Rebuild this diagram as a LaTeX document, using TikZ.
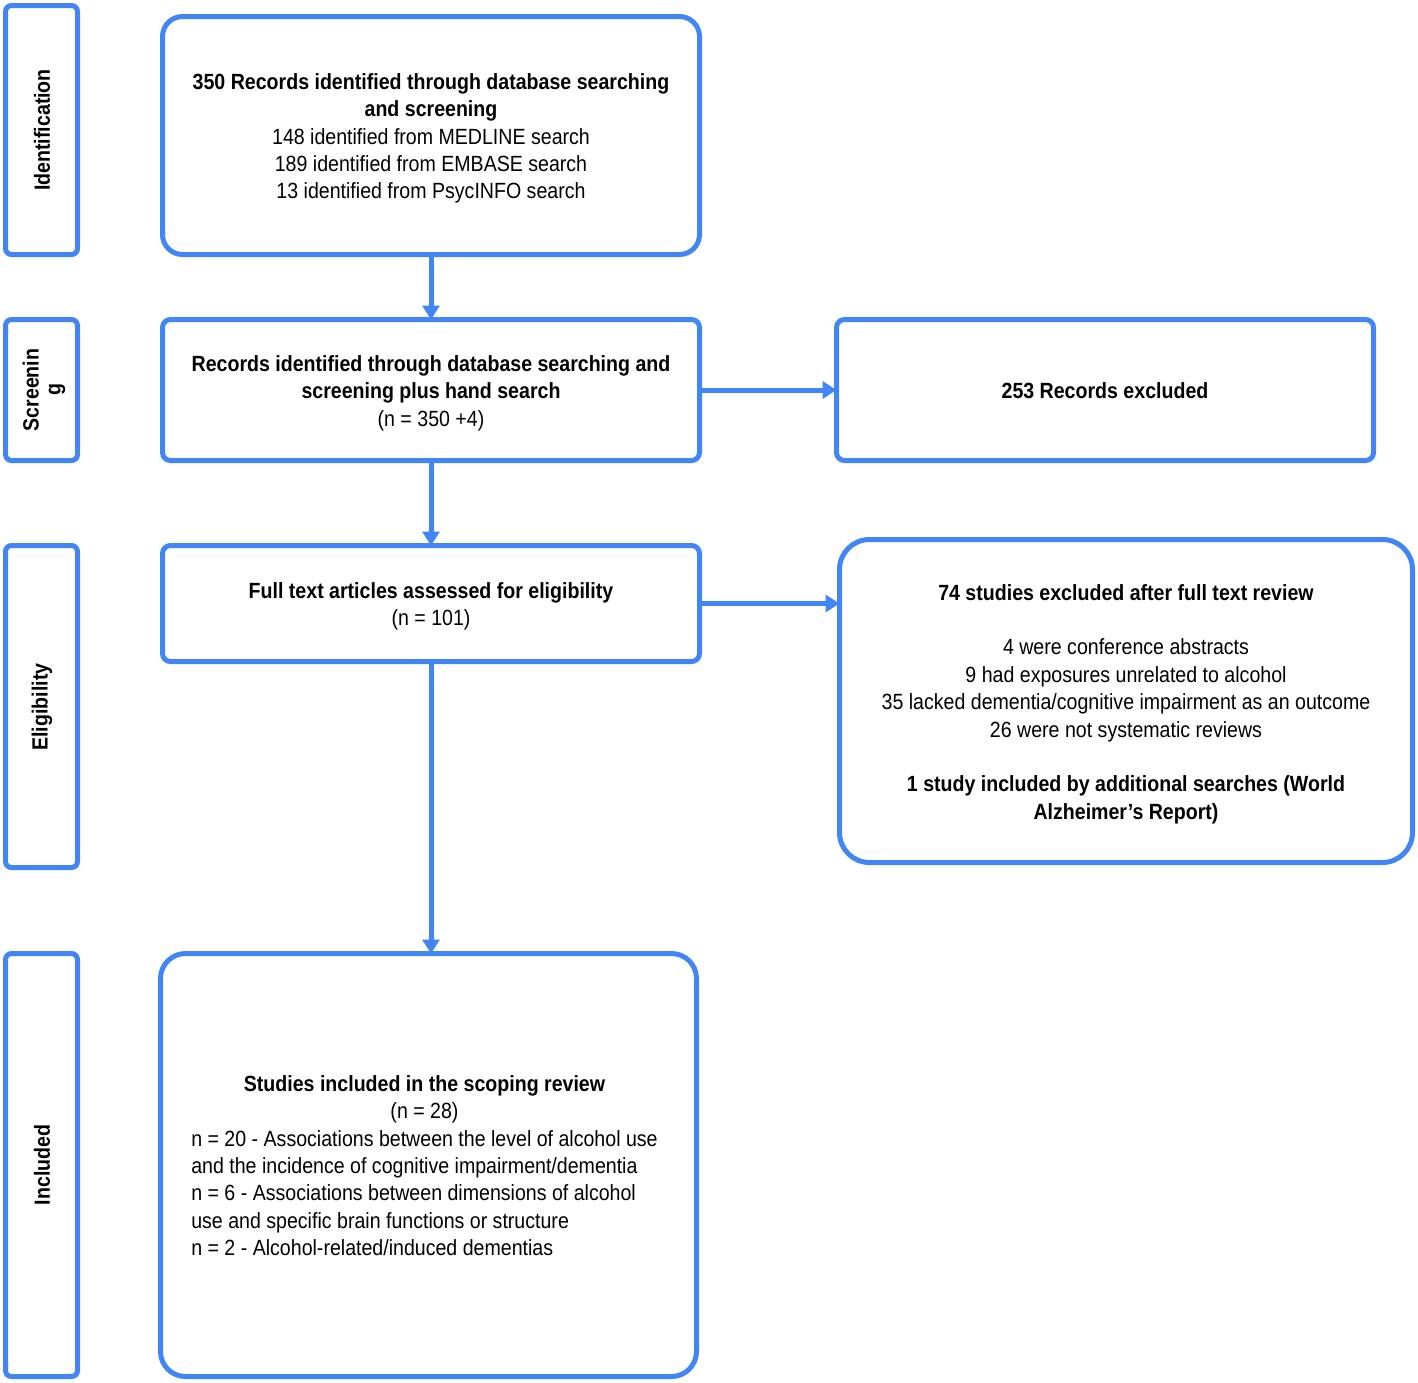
\documentclass[tikz,border=0pt]{standalone}
\usepackage{fontspec}
\setmainfont{Liberation Sans}[FakeStretch=0.89]
\usetikzlibrary{arrows.meta}
\definecolor{pblue}{RGB}{66,133,244}
\begin{document}
\begin{tikzpicture}[x=1pt,y=-1pt,
  every node/.style={font=\fontsize{22}{27.4}\selectfont, inner sep=0pt, outer sep=0pt},
  box/.style={draw=pblue, line width=5pt},
  txt/.style={align=center},
  side/.style={draw=pblue, line width=5pt, rounded corners=6pt, minimum width=72pt},
  sidelabel/.style={rotate=90, align=center, font=\fontsize{22}{22}\selectfont\bfseries},
  flow/.style={draw=pblue, line width=5pt, -{Triangle[width=17pt,length=14pt]}}
]
\useasboundingbox (0,0) rectangle (1418,1382);

% side stage boxes
\node[side, minimum height=249pt] (sid) at (41.5,130) {};
\node[side, minimum height=141pt] (sscr) at (41.5,390) {};
\node[side, minimum height=322pt] (selig) at (41.5,706.5) {};
\node[side, minimum height=423pt] (sinc) at (41.5,1165) {};
\node[sidelabel] (lid) at (42,130) {Identification};
\node[sidelabel] (lscr) at (44,390) {Screenin\\g};
\node[sidelabel] (lelig) at (42,707) {Eligibility};
\node[sidelabel] (linc) at (42,1165) {Included};

% main boxes
\node[box, rounded corners=20pt, minimum width=537pt, minimum height=238pt] (b1) at (431,135.5) {};
\node[box, rounded corners=8pt, minimum width=537pt, minimum height=141pt] (b2) at (431,390) {};
\node[box, rounded corners=8pt, minimum width=537pt, minimum height=141pt] (bex) at (1105,390) {};
\node[box, rounded corners=8pt, minimum width=537pt, minimum height=116pt] (b3) at (431,603.5) {};
\node[box, rounded corners=30pt, minimum width=573pt, minimum height=323pt] (b74) at (1126,701) {};
\node[box, rounded corners=25pt, minimum width=536pt, minimum height=423pt] (binc) at (428.5,1165) {};

% texts
\node[txt] (t1) at ([yshift=-3pt]b1.center)
 {\textbf{350 Records identified through database searching}\\
  \textbf{and screening}\\
  148 identified from MEDLINE search\\
  189 identified from EMBASE search\\
  13 identified from PsycINFO search};
\node[txt] (t2) at ([yshift=-3pt]b2.center)
 {\textbf{Records identified through database searching and}\\
  \textbf{screening plus hand search}\\
  (n = 350 +4)};
\node[txt] (tex) at ([yshift=-1pt]bex.center) {\textbf{253 Records excluded}};
\node[txt] (t3) at ([yshift=-3pt]b3.center)
 {\textbf{Full text articles assessed for eligibility}\\
  (n = 101)};
\node[txt] (t74) at ([yshift=-3pt]b74.center)
 {\textbf{74 studies excluded after full text review}\\[27.4pt]
  4 were conference abstracts\\
  9 had exposures unrelated to alcohol\\
  35 lacked dementia/cognitive impairment as an outcome\\
  26 were not systematic reviews\\[27.4pt]
  \textbf{1 study included by additional searches (World}\\
  \textbf{Alzheimer’s Report)}};
\node[txt] (tinc) at ([xshift=-4pt,yshift=-3pt]binc.center)
 {\begin{tabular}{@{}l@{}}
  \multicolumn{1}{@{}c@{}}{\textbf{Studies included in the scoping review}}\\
  \multicolumn{1}{@{}c@{}}{(n = 28)}\\
  n = 20 - Associations between the level of alcohol use\\
  and the incidence of cognitive impairment/dementia\\
  n = 6 - Associations between dimensions of alcohol\\
  use and specific brain functions or structure\\
  n = 2 - Alcohol-related/induced dementias
  \end{tabular}};

% connectors
\draw[flow] (b1.south) -- (b2.north);
\draw[flow] (b2.south) -- (b3.north);
\draw[flow] (b2.east) -- (bex.west);
\draw[flow] (b3.east) -- (b3.east -| b74.west);
\draw[flow] (b3.south) -- (b3.south |- binc.north);
\end{tikzpicture}
\end{document}
